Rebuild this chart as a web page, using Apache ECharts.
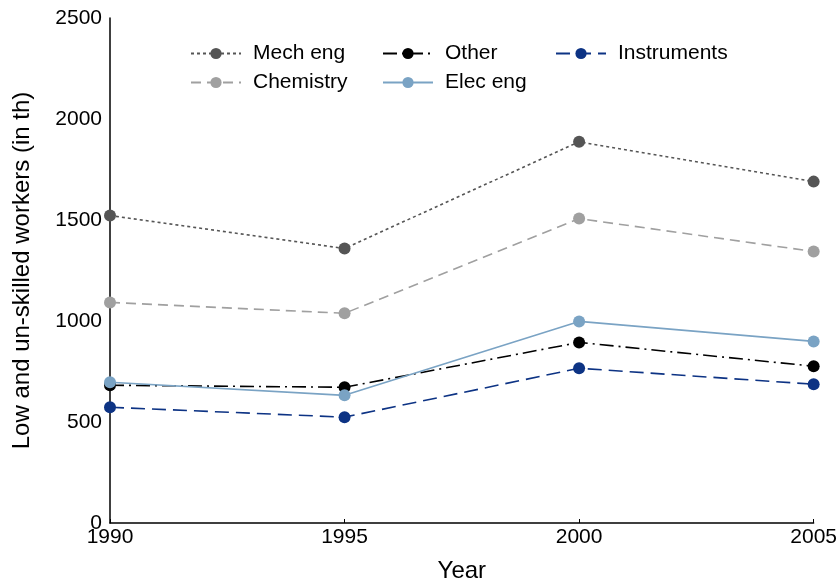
<!DOCTYPE html>
<html lang="en">
<head>
    <meta charset="UTF-8">
    <title>Low and un-skilled workers</title>
    <style>html,body{margin:0;padding:0;background:#fff;}</style>
</head>
<body>
<div id="container" style="width: 840px; height: 588px"></div>
<script type="text/javascript" src="https://cdn.jsdelivr.net/npm/echarts@6/dist/echarts.min.js"></script>
<script type="text/javascript">
    var years = [1990, 1995, 2000, 2005];
    var mechEng = [1522, 1359, 1887, 1690];
    var chemistry = [1092, 1038, 1507, 1344];
    var other = [682, 672, 894, 776];
    var elecEng = [697, 632, 998, 899];
    var instruments = [573, 524, 766, 687];

    var font = 'Liberation Sans, Arial, sans-serif';

    function pairs(vals) {
        return years.map(function (y, i) { return [y, vals[i]]; });
    }

    function line(name, vals, color, type) {
        return {
            name: name,
            type: 'line',
            data: pairs(vals),
            symbol: 'circle',
            symbolSize: 12,
            itemStyle: {color: color},
            lineStyle: {color: color, width: 1.6, type: type},
            z: 3
        };
    }

    function legend(left, names) {
        return {
            left: left,
            top: 43,
            padding: 0,
            orient: 'vertical',
            itemWidth: 50,
            itemHeight: 14,
            itemGap: 8,
            data: names,
            textStyle: {fontFamily: font, fontSize: 21, color: '#000', lineHeight: 20, padding: [0, 0, 0, 7]}
        };
    }

    option = {
        animation: false,
        backgroundColor: '#fff',
        legend: [
            legend(190, ['Mech eng', 'Chemistry']),
            legend(382, ['Other', 'Elec eng']),
            legend(555, ['Instruments'])
        ],
        grid: {left: 110, right: 23, top: 18, bottom: 64},
        xAxis: {
            type: 'value',
            min: 1990,
            max: 2005,
            interval: 5,
            name: 'Year',
            nameLocation: 'middle',
            nameGap: 36,
            nameTextStyle: {fontFamily: font, fontSize: 24, color: '#000'},
            axisLine: {lineStyle: {color: '#000', width: 1.5}},
            axisTick: {show: true, inside: true, length: 4, lineStyle: {color: '#000'}},
            axisLabel: {fontFamily: font, fontSize: 21, color: '#000', margin: 4, formatter: function (v) { return String(v); }},
            splitLine: {show: false}
        },
        yAxis: {
            type: 'value',
            min: 0,
            max: 2500,
            interval: 500,
            name: 'Low and un-skilled workers (in th)',
            nameLocation: 'middle',
            nameGap: 76,
            nameTextStyle: {fontFamily: font, fontSize: 24, color: '#000'},
            axisLine: {show: true, lineStyle: {color: '#000', width: 1.5}},
            axisTick: {show: false},
            axisLabel: {fontFamily: font, fontSize: 21, color: '#000', margin: 8, formatter: function (v) { return String(v); }},
            splitLine: {show: false}
        },
        series: [
            line('Mech eng', mechEng, '#555555', [3, 3]),
            line('Chemistry', chemistry, '#a0a0a0', [10, 6]),
            line('Other', other, '#000000', [14, 5, 2, 5]),
            line('Elec eng', elecEng, '#7aa3c4', 'solid'),
            line('Instruments', instruments, '#0d3384', [14, 7])
        ]
    };

    var myChart = echarts.init(document.getElementById('container'));
    myChart.setOption(option);
</script>
</body>
</html>
